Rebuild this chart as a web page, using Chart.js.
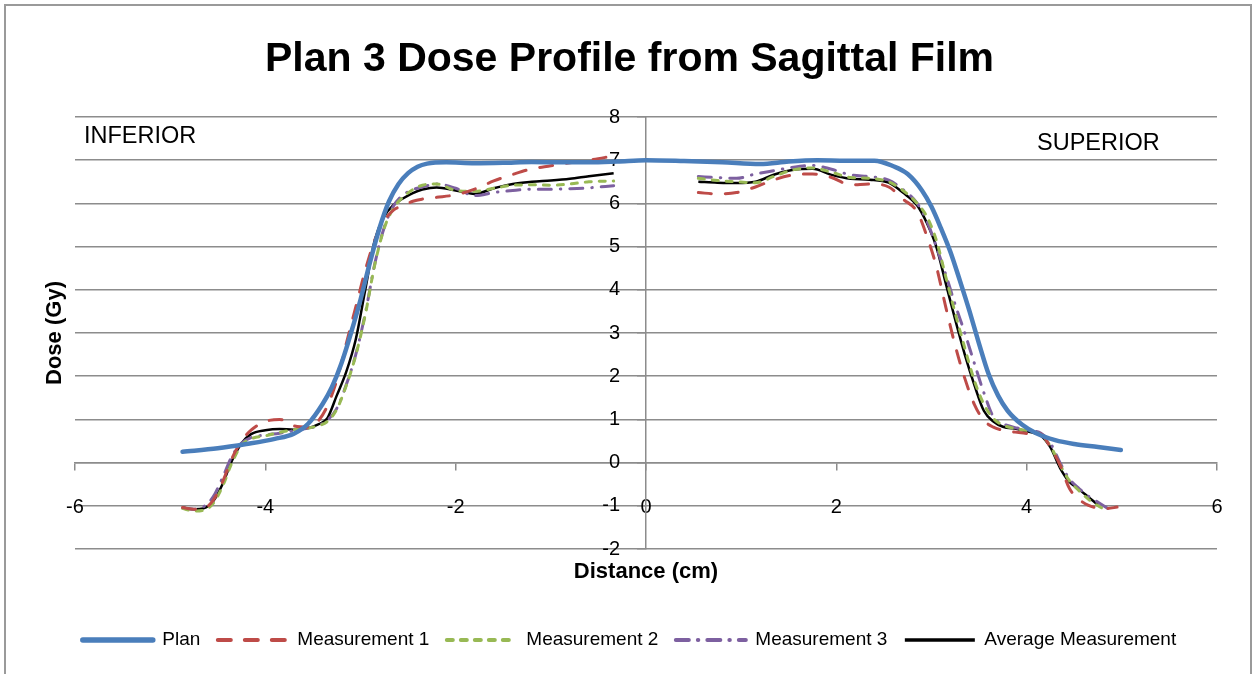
<!DOCTYPE html>
<html>
<head>
<meta charset="utf-8">
<title>Plan 3 Dose Profile from Sagittal Film</title>
<script src="https://cdn.jsdelivr.net/npm/chart.js@4.4.1/dist/chart.umd.min.js"></script>
<style>
  html, body { margin: 0; padding: 0; background: #fff; }
  #wrap { position: relative; width: 1254px; height: 674px; overflow: hidden; }
  #wrap canvas { position: absolute; left: 0; top: 0; }
  #frame { position: absolute; left: 4px; top: 4px; width: 1248px; height: 720px;
           border: 2px solid #9a9a9a; box-sizing: border-box; pointer-events: none; }
</style>
</head>
<body>
<div id="wrap">
  <canvas id="doseChart" width="1254" height="674"></canvas>
  <div id="frame"></div>
</div>
<script>
// 轴刻度
const xTickValues = [-6, -4, -2, 0, 2, 4, 6];
const yTickValues = [-2, -1, 0, 1, 2, 3, 4, 5, 6, 7, 8];

// 计划剂量曲线 (cm, Gy)
const planDistance = [-4.87, -4.5, -4.2, -3.9, -3.7, -3.55, -3.4, -3.3, -3.2, -3.1, -3.0, -2.9, -2.8, -2.7, -2.6, -2.5, -2.4, -2.3, -2.1, -1.8, -1.5, -1.2, -0.9, -0.6, -0.3, 0, 0.4, 0.8, 1.2, 1.5, 1.8, 2.1, 2.4, 2.6, 2.75, 2.9, 3.0, 3.1, 3.2, 3.3, 3.4, 3.5, 3.6, 3.7, 3.8, 3.95, 4.1, 4.3, 4.5, 4.75, 4.99];
const planDose = [0.25, 0.33, 0.43, 0.55, 0.67, 0.9, 1.35, 1.75, 2.3, 3.0, 3.77, 4.64, 5.43, 6.05, 6.45, 6.7, 6.85, 6.92, 6.95, 6.93, 6.94, 6.96, 6.95, 6.95, 6.97, 7.0, 6.98, 6.95, 6.91, 6.97, 7.0, 6.99, 6.99, 6.86, 6.68, 6.3, 5.92, 5.42, 4.87, 4.2, 3.5, 2.75, 2.05, 1.55, 1.2, 0.88, 0.68, 0.52, 0.43, 0.36, 0.29];

// 胶片测量位置，0.1 处为中间无数据段
const measDistance = [-4.87, -4.75, -4.65, -4.55, -4.45, -4.35, -4.25, -4.15, -4.0, -3.85, -3.7, -3.55, -3.45, -3.35, -3.25, -3.15, -3.05, -2.95, -2.85, -2.75, -2.65, -2.55, -2.45, -2.35, -2.2, -2.0, -1.8, -1.6, -1.4, -1.2, -1.0, -0.8, -0.6, -0.34,
  0.1,
  0.55, 0.75, 0.95, 1.15, 1.35, 1.55, 1.75, 1.95, 2.15, 2.35, 2.55, 2.7, 2.85, 2.95, 3.05, 3.15, 3.25, 3.35, 3.45, 3.55, 3.65, 3.75, 3.9, 4.05, 4.15, 4.25, 4.35, 4.45, 4.55, 4.65, 4.75, 4.85, 4.95];

const meas1Dose = [-1.04, -1.08, -1.06, -0.88, -0.45, 0.1, 0.5, 0.75, 0.95, 1.0, 0.85, 0.82, 0.95, 1.3, 1.9, 2.75, 3.6, 4.45, 5.15, 5.6, 5.85, 5.95, 6.05, 6.1, 6.14, 6.2, 6.33, 6.52, 6.67, 6.8, 6.87, 6.94, 7.0, 7.1,
  null,
  6.25, 6.22, 6.25, 6.38, 6.55, 6.66, 6.68, 6.6, 6.43, 6.45, 6.38, 6.1, 5.8, 5.25, 4.55, 3.6, 2.7, 1.95, 1.35, 0.98, 0.82, 0.75, 0.7, 0.67, 0.66, 0.35, -0.05, -0.6, -0.85, -0.99, -1.05, -1.06, -1.03];

const meas2Dose = [-1.06, -1.12, -1.1, -0.95, -0.55, 0.0, 0.4, 0.55, 0.62, 0.7, 0.76, 0.8, 0.85, 0.95, 1.23, 1.78, 2.48, 3.42, 4.58, 5.43, 5.9, 6.15, 6.32, 6.42, 6.45, 6.3, 6.28, 6.35, 6.42, 6.43, 6.42, 6.45, 6.5, 6.52,
  null,
  6.58, 6.53, 6.5, 6.48, 6.63, 6.78, 6.82, 6.72, 6.6, 6.58, 6.5, 6.3, 6.0, 5.7, 5.15, 4.3, 3.45, 2.65, 1.9, 1.35, 1.02, 0.87, 0.78, 0.72, 0.64, 0.38, -0.05, -0.42, -0.65, -0.85, -1.0, -1.12, null];

const meas3Dose = [-1.05, -1.08, -1.02, -0.8, -0.35, 0.15, 0.45, 0.58, 0.64, 0.68, 0.74, 0.8, 0.85, 0.98, 1.25, 1.8, 2.5, 3.45, 4.6, 5.45, 5.95, 6.2, 6.32, 6.38, 6.45, 6.35, 6.18, 6.25, 6.3, 6.33, 6.33, 6.34, 6.36, 6.41,
  null,
  6.62, 6.6, 6.58, 6.68, 6.76, 6.84, 6.88, 6.79, 6.66, 6.62, 6.54, 6.32, 6.0, 5.6, 5.0, 4.35, 3.65, 3.0, 2.3, 1.62, 1.06, 0.9, 0.8, 0.74, 0.68, 0.45, 0.0, -0.38, -0.6, -0.78, -0.92, -1.06, null];

const avgDose = [-1.04, -1.08, -1.06, -0.9, -0.5, 0.05, 0.45, 0.66, 0.75, 0.78, 0.76, 0.8, 0.88, 1.02, 1.55, 2.1, 2.85, 4.0, 5.15, 5.7, 5.97, 6.12, 6.24, 6.32, 6.37, 6.3, 6.22, 6.35, 6.45, 6.5, 6.53, 6.57, 6.63, 6.7,
  null,
  6.5, 6.48, 6.47, 6.5, 6.67, 6.78, 6.8, 6.66, 6.57, 6.55, 6.48, 6.25, 5.95, 5.55, 5.0, 4.15, 3.3, 2.5, 1.8, 1.2, 0.95, 0.83, 0.78, 0.7, 0.62, 0.35, -0.12, -0.45, -0.62, -0.8, -0.98, null, null];

const FONT = 'Liberation Sans, Arial, sans-serif';
const GRID = '#8c8c8c';

function toPoints(xs, ys) {
  return xs.map((x, i) => ({ x, y: ys[i] }));
}

function lineSet(label, xs, ys, color, width, dash, cap) {
  return {
    label,
    data: toPoints(xs, ys),
    borderColor: color,
    backgroundColor: color,
    borderWidth: width,
    borderDash: dash,
    borderCapStyle: cap,
    pointRadius: 0,
    cubicInterpolationMode: 'monotone',
    spanGaps: false,
    xAxisID: 'x',
    yAxisID: 'y'
  };
}

// 图中文字标注：下方/上方
const sideLabels = {
  id: 'sideLabels',
  afterDraw(chart) {
    const ctx = chart.ctx;
    ctx.save();
    ctx.fillStyle = '#000';
    ctx.font = '23.5px ' + FONT;
    ctx.textBaseline = 'middle';
    ctx.textAlign = 'left';
    ctx.fillText('INFERIOR', 84, 137);
    ctx.fillText('SUPERIOR', 1037, 144);
    ctx.restore();
  }
};

// y 轴居中时刻度文字紧贴轴线，这里按 tickLength + padding 往左挪
const yLabelShift = {
  id: 'yLabelShift',
  beforeDraw(chart) {
    const scale = chart.scales.y;
    const items = scale.getLabelItems();
    if (items.shifted) return;
    const off = scale.options.grid.tickLength + scale.options.ticks.padding;
    items.forEach(it => { it.options.translation[0] -= off; });
    items.shifted = true;
  }
};

const ctx = document.getElementById('doseChart');
new Chart(ctx, {
  type: 'line',
  data: {
    datasets: [
      lineSet('Plan', planDistance, planDose, '#4a7ebb', 4.5, [], 'round'),
      lineSet('Measurement 1', measDistance, meas1Dose, '#be4b48', 3, [13, 14], 'round'),
      lineSet('Measurement 2', measDistance, meas2Dose, '#98b954', 3, [6, 8], 'round'),
      lineSet('Measurement 3', measDistance, meas3Dose, '#7d60a0', 3, [13, 9, 0.5, 9], 'round'),
      lineSet('Average Measurement', measDistance, avgDose, '#000000', 2.5, [], 'butt')
    ]
  },
  options: {
    responsive: false,
    animation: false,
    layout: { padding: { left: 42, right: 37, top: 0, bottom: 14.5 } },
    scales: {
      x: {
        type: 'linear',
        position: { y: 0 },
        min: -6,
        max: 6,
        afterBuildTicks: (scale) => { scale.ticks = xTickValues.map(v => ({ value: v })); },
        grid: { drawOnChartArea: false, drawTicks: true, tickLength: 7, color: GRID, lineWidth: 1.5 },
        border: { color: GRID, width: 1.5 },
        ticks: { padding: 26, color: '#000', font: { family: FONT, size: 20 } }
      },
      y: {
        type: 'linear',
        position: { x: 0 },
        min: -2,
        max: 8,
        afterBuildTicks: (scale) => { scale.ticks = yTickValues.map(v => ({ value: v })); },
        grid: { color: GRID, lineWidth: 1.5, tickLength: 8 },
        border: { color: GRID, width: 1.5 },
        ticks: { padding: 18, color: '#000', font: { family: FONT, size: 20 } }
      },
      xTitle: {
        type: 'linear',
        position: 'bottom',
        min: -6,
        max: 6,
        grid: { display: false, drawTicks: false },
        border: { display: false },
        ticks: { display: false },
        title: {
          display: true,
          text: 'Distance (cm)',
          color: '#000',
          font: { family: FONT, size: 22, weight: 'bold' },
          padding: { top: 10, bottom: 27.6 }
        }
      },
      yTitle: {
        type: 'linear',
        position: 'left',
        grid: { display: false, drawTicks: false },
        border: { display: false },
        ticks: { display: false },
        title: {
          display: true,
          text: 'Dose (Gy)',
          color: '#000',
          font: { family: FONT, size: 22, weight: 'bold' },
          padding: { top: 0, bottom: 6.6 }
        }
      }
    },
    plugins: {
      title: {
        display: true,
        text: 'Plan 3 Dose Profile from Sagittal Film',
        color: '#000',
        font: { family: FONT, size: 41, weight: 'bold' },
        padding: { top: 35, bottom: 32.8 }
      },
      legend: {
        position: 'bottom',
        labels: {
          usePointStyle: true,
          pointStyleWidth: 70,
          padding: 17.5,
          color: '#000',
          font: { family: FONT, size: 19 },
          generateLabels: (chart) => chart.data.datasets.map((ds, i) => ({
            text: ds.label,
            fillStyle: ds.borderColor,
            strokeStyle: ds.borderColor,
            fontColor: '#000',
            lineWidth: ds.borderWidth + 1,
            lineDash: ds.borderDash,
            lineCap: ds.borderCapStyle,
            pointStyle: 'line',
            hidden: false,
            datasetIndex: i
          }))
        }
      },
      tooltip: { enabled: false }
    }
  },
  plugins: [sideLabels, yLabelShift]
});
</script>
</body>
</html>
